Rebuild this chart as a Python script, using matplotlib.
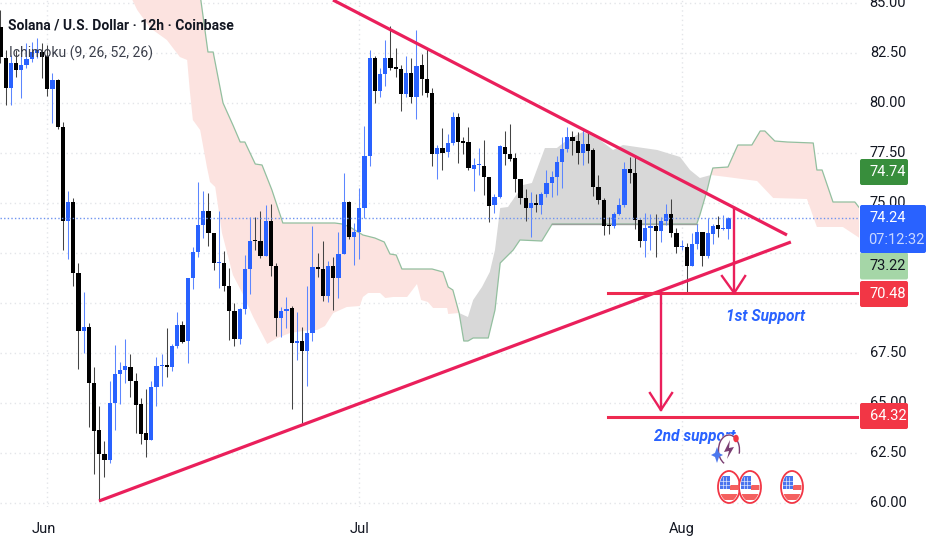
import matplotlib
matplotlib.use("Agg")
import matplotlib.pyplot as plt
from matplotlib.patches import FancyBboxPatch, Ellipse, Rectangle, Polygon, Arc
from matplotlib.transforms import ScaledTranslation
import numpy as np

W, H = 932, 550
plt.rcParams["font.family"] = ["Roboto", "DejaVu Sans"]

opens = [83.8,82.25,80.75,82.0,81.65,81.9,82.2,82.5,82.55,82.35,
80.7,81.15,78.8,74.1,75.05,71.5,68.6,68.8,66.0,63.65,
62.45,62.15,65.0,66.45,66.65,66.8,66.1,64.95,63.5,63.15,
65.8,66.85,66.9,66.8,67.85,68.9,68.1,71.25,72.55,73.9,
74.6,73.5,72.0,72.0,70.85,69.6,68.2,69.7,71.7,73.15,
73.1,72.35,74.1,71.85,69.25,69.6,69.75,68.0,68.1,67.6,
68.5,71.8,71.7,70.35,71.85,71.25,72.45,75.05,73.3,73.55,
74.75,77.35,82.25,80.6,81.45,82.25,81.8,81.7,80.45,81.5,
80.3,81.9,81.2,80.5,77.45,77.75,77.55,78.0,79.3,78.1,
78.05,76.7,76.9,76.85,76.3,74.9,75.3,77.8,77.45,77.25,
76.2,75.25,74.75,75.0,74.9,75.45,76.0,76.3,77.05,77.7,
78.3,78.1,77.5,77.95,77.65,75.8,75.15,73.9,73.85,74.45,
74.9,76.7,76.5,74.15,73.1,73.75,73.85,73.6,74.1,74.45,
73.5,72.8,72.8,71.85,72.95,73.55,72.35,73.45,73.9,73.7,73.7]
highs = [84.65,82.65,82.4,82.65,82.65,83.0,83.05,83.25,83.0,82.9,
81.5,81.2,79.05,75.6,75.25,72.0,70.55,69.0,66.8,64.85,
63.1,66.1,67.9,67.05,68.2,67.45,66.5,65.25,65.7,66.1,
67.3,67.45,68.75,67.95,69.55,69.1,71.25,72.8,76.05,75.6,
75.5,73.5,74.6,72.6,71.75,70.0,69.75,72.4,74.3,74.3,
74.6,74.9,74.95,72.0,69.8,70.3,69.85,69.55,68.8,70.85,
73.85,72.5,73.1,72.1,72.3,73.55,76.5,75.1,74.0,75.75,
78.85,82.65,82.35,81.75,83.15,83.85,82.75,81.9,82.35,82.25,
83.65,82.45,82.75,80.75,77.9,78.75,78.45,79.55,79.5,78.3,
78.8,77.25,77.75,78.15,76.3,75.45,77.9,78.6,78.95,77.5,
76.2,75.7,75.55,75.45,75.55,76.65,76.6,77.35,78.3,78.8,
78.6,78.55,78.75,78.5,77.75,76.4,75.25,74.3,74.55,75.25,
77.05,77.3,77.4,74.2,74.5,74.45,74.45,74.3,74.95,75.2,
73.75,73.15,73.0,73.5,73.95,73.55,74.25,73.95,74.35,74.4,74.3]
lows = [82.0,79.9,79.9,81.3,80.25,81.75,82.05,82.25,81.25,80.35,
79.0,78.7,72.65,72.2,70.85,66.7,67.5,63.8,61.45,60.1,
61.3,62.0,63.65,64.95,66.0,65.3,63.5,62.95,62.3,63.15,
64.85,65.85,66.3,66.6,67.75,68.0,67.0,70.7,72.3,73.25,
72.85,71.65,70.75,70.6,68.15,67.85,67.95,69.45,70.45,72.65,
72.25,72.35,71.35,68.35,68.3,68.75,64.7,67.15,64.0,65.85,
68.1,71.3,70.1,70.05,69.65,70.25,72.45,73.2,71.9,72.2,
74.25,76.85,80.0,80.3,80.85,81.65,81.3,79.6,80.3,80.0,
79.2,80.4,80.3,76.85,76.2,76.65,77.3,77.9,77.0,77.45,
76.65,75.6,76.4,75.4,74.05,74.5,75.25,76.9,77.1,75.55,
74.95,74.1,73.3,74.55,74.45,75.3,75.3,75.4,75.75,77.55,
77.4,76.95,76.9,77.0,75.35,74.95,73.4,73.45,73.75,74.4,
74.8,76.0,73.7,72.8,72.3,72.65,72.3,73.05,73.9,73.3,
72.5,72.65,70.55,71.85,72.7,71.85,72.25,72.95,73.3,73.65,73.2]
closes = [82.3,80.75,82.0,81.65,81.9,82.2,82.55,82.65,82.3,80.7,
81.15,78.8,74.1,75.05,71.5,68.6,68.8,66.0,63.6,62.45,
62.15,65.0,66.45,66.65,66.85,66.1,64.9,63.45,63.15,65.8,
66.85,66.9,66.8,67.85,68.9,68.05,71.25,72.55,73.9,74.6,
73.5,72.0,72.05,70.85,69.6,68.2,69.7,71.7,73.1,73.1,
72.35,74.1,71.85,69.25,69.6,69.7,68.0,68.1,67.6,68.5,
71.8,71.7,70.35,71.85,71.25,72.45,75.05,73.3,73.55,74.75,
77.35,82.25,80.6,81.45,82.25,81.75,81.7,80.45,81.5,80.3,
81.85,81.2,80.5,77.45,77.75,77.5,78.0,79.3,78.05,78.0,
76.75,76.9,76.95,76.3,74.85,75.3,77.85,77.45,77.2,76.2,
75.25,74.75,75.0,74.9,75.45,76.0,76.3,77.05,77.7,78.3,
78.1,77.5,77.95,77.6,75.8,75.15,73.85,73.85,74.45,74.9,
76.7,76.5,74.15,73.1,73.75,73.85,73.6,74.1,74.45,73.5,
72.8,72.85,71.85,72.95,73.55,72.35,73.5,73.85,73.7,73.75,74.25]

span_b_x = [38.4,39.9,40.9,42.8,44.7,46.1,47.0,49.0,50.3,52.2,54.3,64.3,65.7,67.2,69.7,72.0,73.8,74.9,76.1,77.2,
83.0,85.1,86.1,87.0,88.2,89.1,89.9,90.9,93.8,95.1,96.1,98.6,99.9,104.1,106.1,133.9,134.5,135.9,136.6,137.0,
139.9,141.8,144.5,146.1,147.0,148.9,151.3,156.3,157.0,158.0,160.1,164.3,165.2]
span_b_y = [85.4,82.55,82.55,80.0,78.9,78.05,78.05,76.95,76.9,75.65,74.0,74.0,73.95,73.8,73.4,73.25,73.05,72.45,72.4,71.7,
71.7,71.55,70.8,70.65,69.5,68.1,68.1,68.25,68.25,69.65,72.0,72.65,73.15,73.1,73.95,73.95,74.4,75.65,76.4,76.75,
76.8,77.9,77.9,78.6,78.6,78.1,78.05,78.0,76.65,76.65,75.05,75.05,74.75]
span_a_x = [24.9,26.3,28.8,32.0,34.5,35.9,36.4,37.0,38.4,39.7,40.3,41.3,42.6,44.7,46.5,48.6,51.3,53.2,55.7,59.5,
60.9,62.4,64.0,66.6,69.1,69.7,70.7,73.0,74.0,75.5,78.2,80.1,80.9,82.2,83.2,85.9,86.1,88.2,
89.9,90.9,92.6,94.1,95.1,96.1,97.6,100.5,102.2,104.7,107.0,109.0,112.0,113.4,115.3,117.8,119.7,126.3,130.7,132.6,134.5,136.6,
139.7,145.5,148.6,155.1,157.0,162.0,165.2]
span_a_y = [85.4,84.65,83.75,83.15,82.3,82.15,80.65,79.15,78.65,76.8,76.05,75.8,73.5,71.4,70.5,69.3,67.95,68.25,68.5,68.65,
68.65,68.85,69.5,69.8,69.85,70.3,70.5,70.5,70.25,70.3,70.3,70.95,70.15,70.05,69.75,69.75,69.45,69.5,
69.3,70.15,70.8,71.55,72.65,74.75,74.8,75.9,76.0,77.75,77.75,78.15,78.55,78.4,78.15,77.65,77.9,77.65,77.3,76.65,76.25,76.4,
76.3,76.1,75.25,75.2,73.8,73.8,73.25]

price_ticks = [85.0,82.5,80.0,77.5,75.0,72.5,70.0,67.5,65.0,62.5,60.0]
month_ticks = [9, 69, 131]
month_labels = ["Jun", "Jul", "Aug"]
last_price = 74.24
support_1, support_2 = 70.48, 64.32

BLUE, RED, PINKLINE = "#2962ff", "#f23645", "#ea1f5b"
PLOT_W, PLOT_H = 859, 507
fig = plt.figure(figsize=(W/100, H/100), dpi=100, facecolor="white")
ax = fig.add_axes([0, (H-PLOT_H)/H, PLOT_W/W, PLOT_H/H])
ax.set_xlim(-0.09, 165.1)
ax.set_ylim(85.15-PLOT_H/20, 85.15)
for s in ax.spines.values():
    s.set_visible(False)

ax.set_yticks(price_ticks)
ax.set_xticks(month_ticks)
ax.set_xticklabels(month_labels, fontsize=10.5, color="#131722")
ax.tick_params(axis="both", length=0)
ax.tick_params(axis="x", pad=11)
ax.tick_params(axis="y", labelleft=False)
lab0 = ax.get_xticklabels()[0]
lab0.set_transform(lab0.get_transform()+ScaledTranslation(-0.03, 0, fig.dpi_scale_trans))
ax.grid(True, color="#e3e5e9", lw=1.0, ls=(0, (1, 2.4)), zorder=0)
ax.set_axisbelow(True)

# kumo regions
ax_b, ay_b = np.array(span_b_x), np.array(span_b_y)
ax_a, ay_a = np.array(span_a_x), np.array(span_a_y)
def region(lo, hi, color):
    ma = (ax_a >= lo) & (ax_a <= hi)
    mb = (ax_b >= lo) & (ax_b <= hi)
    xs = np.concatenate([ax_a[ma], ax_b[mb][::-1]])
    ys = np.concatenate([ay_a[ma], ay_b[mb][::-1]])
    ax.fill(xs, ys, color=color, lw=0, zorder=1)
region(0, 88.2, "#fce3e0")
region(88.2, 136.6, "#d8d8d8")
region(136.6, 170, "#fce3e0")
ax.plot(ax_b, ay_b, color="#93bf9f", lw=0.9, zorder=2)
flat = (ax_b >= 106.1) & (ax_b <= 133.9)
ax.plot(ax_b[flat], ay_b[flat], color="#9a9f9b", lw=1.0, zorder=2.1)

# candles
idx = np.arange(len(opens))
o, h, l, c = map(np.array, (opens, highs, lows, closes))
up = c >= o
cols = np.where(up, BLUE, "#000000")
ax.vlines(idx[up], l[up], h[up], color="#5c86ff", lw=0.75, zorder=3)
ax.vlines(idx[~up], l[~up], h[~up], color="#444444", lw=0.75, zorder=3)
ax.bar(idx, np.abs(c-o), bottom=np.minimum(o, c), width=0.82, color=cols, lw=0, zorder=3.2)
ax.axhline(last_price, color="#6f94f0", lw=1.0, ls=(0, (1, 1.6)), zorder=3.5)

# drawn trendlines / levels
lk = dict(color=PINKLINE, lw=2.3, zorder=5, solid_capstyle="butt")
ax.plot([63.95, 151.25], [85.15, 73.4], **lk)
ax.plot([18.95, 152.0], [60.1, 73.05], **lk)
ax.plot([116.9, 165.1], [support_1, support_1], color="#ee2a50", lw=2.2, zorder=5)
ax.plot([116.8, 165.1], [support_2, support_2], color="#ee2a50", lw=2.2, zorder=5)
ak = dict(color=PINKLINE, lw=1.7, zorder=5)
ax.plot([141.1, 141.1], [74.75, 70.5], **ak)
ax.plot([138.75, 141.1, 143.2], [71.35, 70.5, 71.35], **ak)
ax.plot([127.0, 127.0], [70.48, 64.65], **ak)
ax.plot([124.9, 127.0, 129.15], [65.5, 64.65, 65.5], **ak)

ax.text(147.2, 69.35, "1st Support", color=BLUE, fontsize=11.2, style="italic", weight="bold", ha="center", va="center", zorder=6)
ax.text(133.5, 63.3, "2nd support", color=BLUE, fontsize=11.2, style="italic", weight="bold", ha="center", va="center", zorder=6)

# price scale
ax2 = fig.add_axes([PLOT_W/W, (H-PLOT_H)/H, (W-PLOT_W)/W, PLOT_H/H])
ax2.set_xlim(0, W-PLOT_W)
ax2.set_ylim(ax.get_ylim())
ax2.axis("off")
LAB = 10.5
for p in price_ticks:
    ax2.text(29, p, f"{p:.2f}", fontsize=LAB, color="#131722", ha="center", va="center", clip_on=True, zorder=1)
def tag(center, height, width, face, zorder=3):
    r = FancyBboxPatch((1, center-height/2), width, height, boxstyle="round,pad=0,rounding_size=2",
                       mutation_aspect=1/20, fc=face, ec="none", zorder=zorder)
    ax2.add_patch(r)
tag(76.55, 1.3, 48, "#388e3c")
tag(71.85, 1.35, 48, "#a5d6a7")
tag(70.45, 1.3, 48, RED)
tag(64.35, 1.3, 48, RED)
tag(73.7, 2.4, 66, BLUE, 4)
kw = dict(fontsize=LAB, ha="center", va="center", zorder=6)
ax2.text(29, 76.55, "74.74", color="white", **kw)
ax2.text(29, last_price, "74.24", color="white", **kw)
ax2.text(37, 73.15, "07:12:32", color="#c9d8ff", fontsize=10.5, ha="center", va="center", zorder=6)
ax2.text(29, 71.85, "73.22", color="#131722", **kw)
ax2.text(29, 70.45, "70.48", color="white", **kw)
ax2.text(29, 64.35, "64.32", color="white", **kw)

# header
fig.text(8/W, 1-25.5/H, "Solana / U.S. Dollar · 12h · Coinbase", fontsize=10.0, color="#131722", weight="bold", va="center", ha="left", zorder=10)
fig.text(9/W, 1-53/H, "Ichimoku (9, 26, 52, 26)", fontsize=10.1, color="#3a3e4a", va="center", ha="left", zorder=10)

# event icons (overlay in pixel space)
ov = fig.add_axes([0, 0, 1, 1], zorder=8)
ov.set_xlim(0, W); ov.set_ylim(H, 0); ov.axis("off"); ov.patch.set_alpha(0)
ov.add_patch(Ellipse((729, 450), 23, 32, fc="white", ec="none", zorder=1))
ov.add_patch(Arc((729, 450), 21, 30, theta1=-250, theta2=20, ec="#7a3e72", lw=1.0, zorder=2))
ov.add_patch(Polygon([(730, 440), (724, 452), (729, 451), (727, 459), (734, 447), (729, 448)], fc="#7a3e72", ec="none", zorder=3))
ov.add_patch(Ellipse((736, 438.5), 5.5, 7.5, fc=RED, ec="none", zorder=4))
ov.add_patch(Polygon([(717, 447), (719, 453), (723, 455), (719, 457), (717, 463), (715, 457), (711, 455), (715, 453)], fc="#4c78ee", ec="none", zorder=4))
for cx in (729, 750, 792):
    rim = Ellipse((cx, 487), 22, 32, fc="white", ec=RED, lw=1.3, zorder=5)
    ov.add_patch(rim)
    inner = Ellipse((cx, 487), 19, 29, fc="none", ec="none", zorder=5)
    ov.add_patch(inner)
    parts = [Rectangle((cx-9, 476), 10, 13, fc="#4a74ee", ec="none", zorder=6),
             Rectangle((cx+1, 485), 9, 4.5, fc="#f4605f", ec="none", zorder=6),
             Rectangle((cx-10, 494), 20, 6, fc="#f4605f", ec="none", zorder=6)]
    for pt in parts:
        ov.add_patch(pt)
        pt.set_clip_path(inner)
    for gx in (cx-6, cx-3):
        ov.plot([gx, gx], [477, 489], color="white", lw=0.4, zorder=7)
    for gy in (481, 485):
        ov.plot([cx-9, cx+1], [gy, gy], color="white", lw=0.4, zorder=7)

fig.savefig("out.png", dpi=100, facecolor="white")
